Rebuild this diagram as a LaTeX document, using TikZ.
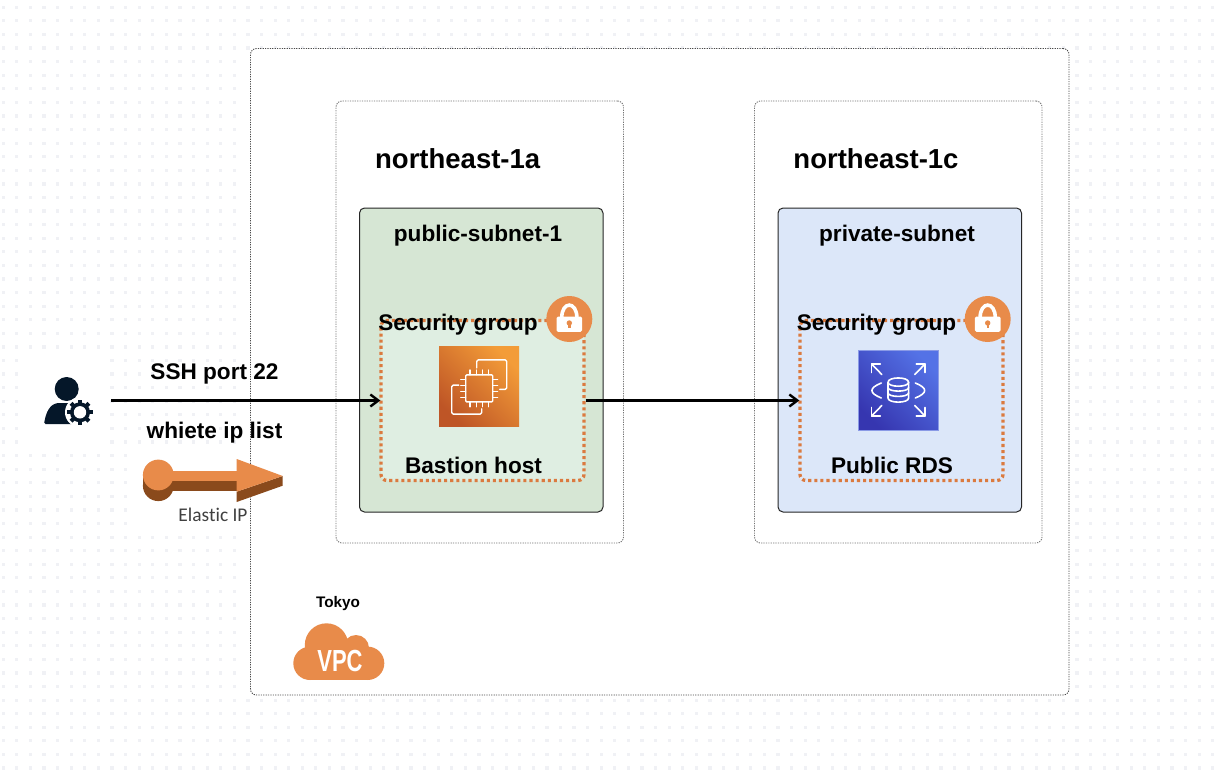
\documentclass[tikz,border=0pt]{standalone}
\usepackage{fontspec}
\setmainfont{Liberation Sans}
\newfontfamily\eipfont[Ligatures=NoCommon]{Carlito}
\usetikzlibrary{arrows.meta}
\definecolor{dotgrey}{HTML}{F0F1F5}
\definecolor{awsorange}{HTML}{E88B4A}
\definecolor{sgorange}{HTML}{DB7A3F}
\definecolor{darkorange}{HTML}{8A4A1C}
\definecolor{greenfill}{HTML}{D6E6D4}
\definecolor{greenin}{HTML}{DFEEE2}
\definecolor{bluefill}{HTML}{DCE7F9}
\definecolor{navy}{HTML}{051729}
\definecolor{ecdark}{HTML}{BE5526}
\definecolor{eclight}{HTML}{F39C38}
\definecolor{rdsdark}{HTML}{3636B0}
\definecolor{rdslight}{HTML}{5472E6}
\definecolor{rdsedge}{HTML}{8A9AE6}
\tikzset{
  x=1pt,y=-1pt,
  lbl/.style={inner sep=0pt,anchor=base,font=\bfseries\fontsize{22.6}{24}\selectfont,text=black},
  biglbl/.style={lbl,font=\bfseries\fontsize{27.5}{30}\selectfont},
  vpcbox/.style={draw=black!70,line width=0.9pt,dash pattern=on 1.2pt off 1.2pt,rounded corners=6pt,fill=white},
  azbox/.style={draw=black!55,line width=0.9pt,dash pattern=on 1.2pt off 1.2pt,rounded corners=6pt,fill=white},
  subnetbox/.style={draw=black!85,line width=1pt,rounded corners=5pt},
  sgbox/.style={draw=sgorange,line width=3.3pt,dash pattern=on 3.1pt off 3pt,rounded corners=6pt},
  conn/.style={draw=black,line width=3pt,shorten >=-1pt,-{Straight Barb[length=8pt,width=12pt,line width=2.4pt]}},
  icn/.style={draw=white,line width=1.6pt,line cap=round,line join=round},
  ecn/.style={icn,line width=1.4pt},
}
\newcommand{\locksym}[1]{%
  \begin{scope}[shift={(#1)}]
    \fill[awsorange] (0,0) circle[radius=23pt];
    \draw[white,line width=3.6pt] (-7.6,-1) .. controls (-7.6,-18.2) and (7.6,-18.2) .. (7.6,-1);
    \fill[white,rounded corners=1.5pt] (-12.8,-2.5) rectangle (12.8,12.8);
    \fill[awsorange] (0,4) circle[radius=2.7pt];
    \fill[awsorange] (-1.2,4) rectangle (1.2,9.3);
  \end{scope}}
\begin{document}
\begin{tikzpicture}
\useasboundingbox (0,0) rectangle (1214,778);
\fill[white] (0,0) rectangle (1214,778);
% dotted page
\foreach \i in {0,...,89}{\foreach \j in {0,...,56}{
  \fill[dotgrey] ({3.3+13.59*\i-1.6},{7.3+13.585*\j-1.6}) rectangle ++(3.2,3.2);
}}
\fill[white] (24,352) rectangle (105,450);
\fill[white] (135,450) rectangle (250,531);
\fill[white] (241,50) rectangle (1068,694);
% containers
\node[vpcbox,inner sep=0pt,minimum width=818.5pt,minimum height=646.5pt] (vpc) at (659.75,371.75) {};
\node[azbox,inner sep=0pt,minimum width=287.5pt,minimum height=442pt] (aza) at (479.75,322) {};
\node[azbox,inner sep=0pt,minimum width=287.5pt,minimum height=442pt] (azc) at (898.25,322) {};
\node[subnetbox,fill=greenfill,inner sep=0pt,minimum width=243.5pt,minimum height=304pt] (suba) at (481.25,360) {};
\node[subnetbox,fill=bluefill,inner sep=0pt,minimum width=243.5pt,minimum height=304pt] (subc) at (899.75,360) {};
\node[sgbox,fill=greenin,inner sep=0pt,minimum width=203pt,minimum height=160pt] (sga) at (482.5,400.5) {};
\node[sgbox,fill=bluefill,inner sep=0pt,minimum width=203pt,minimum height=160pt] (sgc) at (901.5,400.5) {};
\node[inner sep=0pt,minimum width=86pt,minimum height=60pt] (user) at (68,400.5) {};
% EC2 icon
\node[inner sep=0pt,minimum width=80pt,minimum height=80pt,left color=ecdark,right color=eclight,shading angle=135] (ec2) at (479.2,386.9) {};
\begin{scope}[shift={(479.2,386.9)}]
  \draw[ecn,rounded corners=1pt] (-13.5,-12) rectangle (13.5,15);
  \foreach \k in {-9.2,-3.1,3.1,9.2}{
    \draw[ecn,line width=1.1pt] (\k,-12) -- (\k,-17);
    \draw[ecn,line width=1.1pt] (\k,15) -- (\k,20);
    \draw[ecn,line width=1.1pt] (-13.5,\k+1.5) -- (-18.5,\k+1.5);
    \draw[ecn,line width=1.1pt] (13.5,\k+1.5) -- (18.5,\k+1.5);
  }
  \draw[ecn,rounded corners=1.5pt] (-2.5,-19) -- (-2.5,-27) -- (27.5,-27) -- (27.5,2.5) -- (20.5,2.5);
  \draw[ecn,rounded corners=1.5pt] (-20.5,-1.8) -- (-27.5,-1.8) -- (-27.5,27.2) -- (2.5,27.2) -- (2.5,22);
\end{scope}
% RDS icon
\node[draw=rdsedge,line width=0.8pt,inner sep=0pt,minimum width=80pt,minimum height=80pt,left color=rdsdark,right color=rdslight,shading angle=135] (rds) at (898.5,390.5) {};
\begin{scope}[shift={(898.3,390)}]
  \draw[icn] (-10.3,-7.7) .. controls (-10.3,-13.5) and (10.3,-13.5) .. (10.3,-7.7) .. controls (10.3,-2.5) and (-10.3,-2.5) .. (-10.3,-7.7);
  \draw[icn] (-10.3,-7.7) -- (-10.3,8) .. controls (-10.3,13.5) and (10.3,13.5) .. (10.3,8) -- (10.3,-7.7);
  \draw[icn] (-10.3,-2.5) .. controls (-10.3,2.3) and (10.3,2.3) .. (10.3,-2.5);
  \draw[icn] (-10.3,2.8) .. controls (-10.3,7.6) and (10.3,7.6) .. (10.3,2.8);
  \draw[icn] (-17,-7) .. controls (-29.5,-2) and (-29.5,3) .. (-17,8);
  \draw[icn] (17,-7) .. controls (29.5,-2) and (29.5,3) .. (17,8);
  \foreach \sx/\sy in {-1/-1,1/-1,-1/1,1/1}{
    \draw[icn] (\sx*16.5,\sy*15.5) -- (\sx*26.7,\sy*26);
    \draw[icn] (\sx*18,\sy*26) -- (\sx*26.7,\sy*26) -- (\sx*26.7,\sy*17.5);
  }
\end{scope}
% connectors
\draw[conn] (user.east) -- (sga.west);
\draw[conn] (sga.east) -- (sgc.west);
% user icon
\fill[navy,rounded corners=1.5pt] (44,424) .. controls (46,412) and (50,404) .. (59,403) -- (74,403) -- (74,424) -- cycle;
\fill[navy] (66.7,389) circle[radius=12pt];
\fill[white] (80,412.3) circle[radius=15pt];
\begin{scope}[shift={(80,412.3)}]
  \foreach \a in {0,45,...,315}{
    \fill[navy,rotate=\a] (-2,-12.6) rectangle (2,0);
  }
  \fill[navy] (0,0) circle[radius=10pt];
  \fill[white] (0,0) circle[radius=6.2pt];
\end{scope}
% elastic IP
\fill[darkorange] (170,480) rectangle (237,490.7);
\fill[darkorange] (236.7,491.7) -- (282.7,476) -- (282.7,485.7) -- (236.7,502) -- cycle;
\fill[darkorange] (142.9,475) rectangle (173.7,485.7);
\fill[darkorange] (158.3,485.7) circle[radius=15.4pt];
\fill[awsorange] (158.3,475) circle[radius=15.4pt];
\fill[awsorange] (170,470.7) rectangle (237,480.7);
\fill[awsorange] (236.7,459) -- (282.7,476) -- (236.7,491.7) -- cycle;
% vpc cloud
\fill[awsorange] (326.5,645) circle[radius=21.7pt];
\fill[awsorange] (356,648) circle[radius=13pt];
\fill[awsorange] (310,663.3) circle[radius=16.7pt];
\fill[awsorange] (367.6,663.3) circle[radius=16.7pt];
\fill[awsorange] (310,650) rectangle (367.6,680);
\node[inner sep=0pt,anchor=base,xscale=0.72,text=white,font=\bfseries\fontsize{30.5}{32}\selectfont] (vpclabel) at (340,671.7) {VPC};
% labels
\node[biglbl] (t1a) at (457.7,168.4) {northeast-1a};
\node[biglbl] (t1c) at (876,168.4) {northeast-1c};
\node[lbl] (tpub) at (478,241.7) {public-subnet-1};
\node[lbl] (tpriv) at (897,241.7) {private-subnet};
\node[lbl] (tsga) at (458,330) {Security group};
\node[lbl] (tsgc) at (876.5,330) {Security group};
\node[lbl] (tbast) at (473.5,473.4) {Bastion host};
\node[lbl] (trds) at (892,473.4) {Public RDS};
\node[lbl] (tssh) at (214.5,379) {SSH port 22};
\node[lbl] (twl) at (214.5,438.4) {whiete ip list};
\node[lbl,font=\bfseries\fontsize{15.3}{16}\selectfont] (ttok) at (338,607.3) {Tokyo};
\node[inner sep=0pt,anchor=base,text=black!75,font=\eipfont\fontsize{19.4}{20}\selectfont] (teip) at (213,521.7) {Elastic IP};
\locksym{569.3,319}
\locksym{987.7,319}
\end{tikzpicture}
\end{document}
